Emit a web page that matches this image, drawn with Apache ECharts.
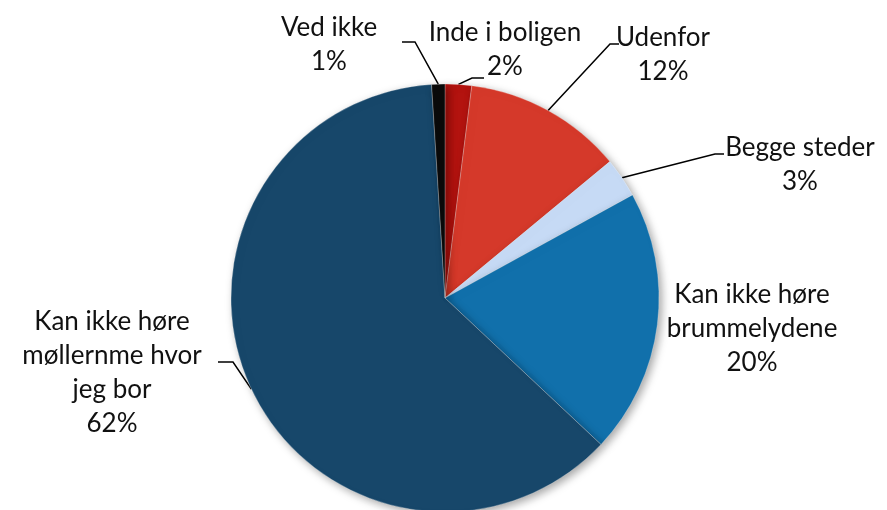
<!DOCTYPE html>
<html>
<head>
<meta charset="utf-8">
<script src="https://cdn.jsdelivr.net/npm/echarts@6/dist/echarts.min.js"></script>
<style>
  html, body { margin: 0; padding: 0; background: #fff; }
  #chart { width: 887px; height: 510px; }
</style>
</head>
<body>
<div id="chart"></div>
<script>
// slices clockwise from 12 o'clock
const names = [
  'Inde i boligen',
  'Udenfor',
  'Begge steder',
  'Kan ikke høre\nbrummelydene',
  'Kan ikke høre\nmøllernme hvor\njeg bor',
  'Ved ikke'
]
const shares = [2, 12, 3, 20, 62, 1]
const colors = ['#b3130f', '#d5392a', '#c6daf5', '#1170ab', '#17476a', '#0a0a0a']

// where each label sits, and the bend / end of its leader line
const labelSpots = [
  {x: 505, y: 50,  bend: [472, 78],  end: [484, 78]},
  {x: 663, y: 55,  bend: [610, 44],  end: [619, 44]},
  {x: 800, y: 165, bend: [715, 154], end: [724, 154]},
  {x: 752, y: 329, bend: null,       end: null},
  {x: 112, y: 373, bend: [233, 362], end: [218, 362]},
  {x: 329, y: 45,  bend: [415, 42],  end: [402, 42]}
]

const myChart = echarts.init(document.getElementById('chart'))

const data = names.map((n, i) => {
  const item = {
    name: n,
    value: shares[i],
    itemStyle: {color: colors[i]}
  }
  if (!labelSpots[i].bend) item.labelLine = {show: false}
  return item
})

myChart.setOption({
  backgroundColor: '#fff',
  animation: false,
  series: [{
    type: 'pie',
    center: [445, 298],
    radius: 214,
    startAngle: 90,
    clockwise: true,
    avoidLabelOverlap: false,
    data: data,
    itemStyle: {
      borderColor: 'rgba(255,255,255,0.25)',
      borderWidth: 1,
      shadowColor: 'rgba(0,0,0,0.35)',
      shadowBlur: 8,
      shadowOffsetX: 3,
      shadowOffsetY: 3
    },
    label: {
      show: true,
      position: 'outside',
      formatter: '{b}\n{d}%',
      color: '#111',
      fontFamily: 'Lato',
      fontSize: 26,
      lineHeight: 34
    },
    labelLine: {
      show: true,
      length: 10,
      length2: 10,
      lineStyle: {color: '#000', width: 1.5}
    },
    labelLayout: function (p) {
      const s = labelSpots[p.dataIndex]
      const out = {x: s.x, y: s.y, align: 'center', verticalAlign: 'middle'}
      if (s.bend && p.labelLinePoints) {
        out.labelLinePoints = [p.labelLinePoints[0], s.bend, s.end]
      }
      return out
    }
  }]
})
</script>
</body>
</html>
